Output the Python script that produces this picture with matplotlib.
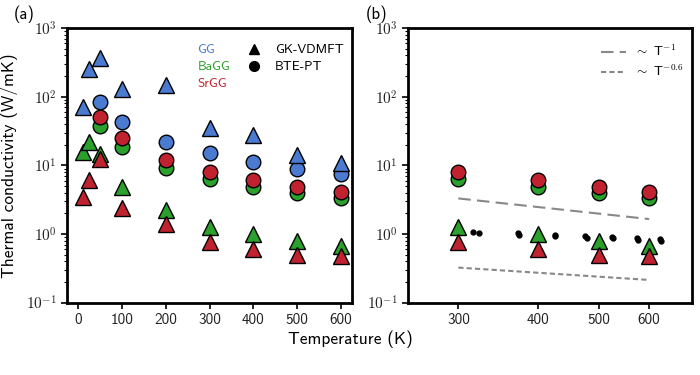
import numpy as np
import matplotlib
matplotlib.use("Agg")
import matplotlib.pyplot as plt
from matplotlib.lines import Line2D
from matplotlib.ticker import FixedLocator, NullLocator, ScalarFormatter, FuncFormatter

plt.rcParams['font.family'] = ['cmss10', 'DejaVu Sans']
plt.rcParams['mathtext.fontset'] = 'cm'
plt.rcParams['axes.unicode_minus'] = False

# GK-VDMFT (triangles)
T_gk = [10, 25, 50, 100, 200, 300, 400, 500, 600]
gg_gk = [71, 258, 361, 128, 147, 34.6, 27.6, 14.1, 10.7]
bagg_gk = [15.8, 22, 14.6, 4.8, 2.23, 1.28, 1.0, 0.79, 0.67]
srgg_gk = [3.5, 6.1, 12.2, 2.37, 1.4, 0.757, 0.6, 0.49, 0.48]

# BTE-PT (circles)
T_bte = [50, 100, 200, 300, 400, 500, 600]
gg_bte = [82.6, 43, 22, 15, 11.1, 8.8, 7.6]
bagg_bte = [37.3, 18.7, 9.2, 6.25, 4.8, 3.9, 3.3]
srgg_bte = [51, 24.7, 11.9, 7.9, 6.1, 4.9, 4.05]

# experimental points (panel b)
T_exp = [300, 316, 323, 372, 374, 426, 427, 476, 478, 525, 527, 575, 577, 625, 627]
k_exp = [1.1, 1.08, 1.03, 1.02, 0.97, 0.96, 0.92, 0.93, 0.88, 0.9, 0.86, 0.87, 0.83, 0.85, 0.79]

# power-law guides
T_guide = [300, 600]
k_t1 = [3.3, 1.65]
k_t06 = [0.324, 0.214]

c_gg = '#4a7bd1'
c_ba = '#2ca02c'
c_sr = '#c0232f'

fig = plt.figure(figsize=(7, 3.75), dpi=100)
ax1 = fig.add_axes([0.096, 0.193, 0.407, 0.732])
ax2 = fig.add_axes([0.583, 0.193, 0.405, 0.732])

tri = dict(marker='^', ms=11, mec='black', mew=1.0, ls='none')
cir = dict(marker='o', ms=10.5, mec='black', mew=1.0, ls='none')

ax1.plot(T_bte, bagg_bte, color=c_ba, **cir)
ax1.plot(T_bte, srgg_bte, color=c_sr, **cir)
ax1.plot(T_bte, gg_bte, color=c_gg, **cir)
ax1.plot(T_gk, gg_gk, color=c_gg, **tri)
ax1.plot(T_gk, bagg_gk, color=c_ba, **tri)
ax1.plot(T_gk, srgg_gk, color=c_sr, **tri)

ax2.plot(T_guide, k_t1, color='#888888', ls=(0, (6, 3)), lw=1.5,
         label=r'$\sim$ T$^{\mathsf{-1}}$')
ax2.plot(T_guide, k_t06, color='#888888', ls=(0, (2.5, 1.5)), lw=1.5,
         label=r'$\sim$ T$^{\mathsf{-0.6}}$')
ax2.plot(T_bte[3:], bagg_bte[3:], color=c_ba, **cir)
ax2.plot(T_bte[3:], srgg_bte[3:], color=c_sr, **cir)
ax2.plot(T_exp, k_exp, 'o', color='black', ms=3.5)
ax2.plot(T_gk[5:], bagg_gk[5:], color=c_ba, **tri)
ax2.plot(T_gk[5:], srgg_gk[5:], color=c_sr, **tri)

logfmt = FuncFormatter(lambda v, p: r'$\mathsf{10}^{\mathsf{%d}}$' % round(np.log10(v)))

for ax in (ax1, ax2):
    ax.set_yscale('log')
    ax.set_ylim(0.1, 1000)
    ax.yaxis.set_major_formatter(logfmt)
    for s in ax.spines.values():
        s.set_linewidth(2)
    ax.tick_params(labelsize=11, width=1.2, length=4, labelcolor='#222222')
    ax.tick_params(which='minor', width=0.8, length=2)

ax1.set_xlim(-25, 625)
ax1.set_xticks([0, 100, 200, 300, 400, 500, 600])

ax2.set_xscale('log')
ax2.set_xlim(250, 700)
ax2.xaxis.set_major_locator(FixedLocator([300, 400, 500, 600]))
ax2.xaxis.set_minor_locator(NullLocator())
ax2.xaxis.set_major_formatter(ScalarFormatter())

ax1.set_ylabel('Thermal conductivity (W/mK)', fontsize=12.5, labelpad=6)
fig.text(0.5, 0.083, 'Temperature (K)', ha='center', fontsize=12.5)
fig.text(0.02, 0.985, '(a)', fontsize=12, va='top')
fig.text(0.522, 0.985, '(b)', fontsize=12, va='top')

# material labels (colored text) and method legend
h_mat = [Line2D([], [], ls='none') for _ in range(3)]
leg1 = ax1.legend(h_mat, ['GG', 'BaGG', 'SrGG'], loc='upper left',
                  bbox_to_anchor=(0.415, 0.985), frameon=False, handlelength=0,
                  handletextpad=0, fontsize=9.5, labelspacing=0.35)
for t, c in zip(leg1.get_texts(), [c_gg, c_ba, c_sr]):
    t.set_color(c)
ax1.add_artist(leg1)
h_meth = [Line2D([], [], marker='^', color='black', ls='none', ms=7),
          Line2D([], [], marker='o', color='black', ls='none', ms=7)]
ax1.legend(h_meth, ['GK-VDMFT', 'BTE-PT'], loc='upper left',
           bbox_to_anchor=(0.585, 0.985), frameon=False, fontsize=9.5,
           labelspacing=0.35, handletextpad=1.0, handlelength=1.2)

ax2.legend(loc='upper left', bbox_to_anchor=(0.64, 0.985), frameon=False,
           fontsize=9.5, handlelength=1.9, labelspacing=0.35, handletextpad=0.6)

fig.savefig('out.png', dpi=100)
